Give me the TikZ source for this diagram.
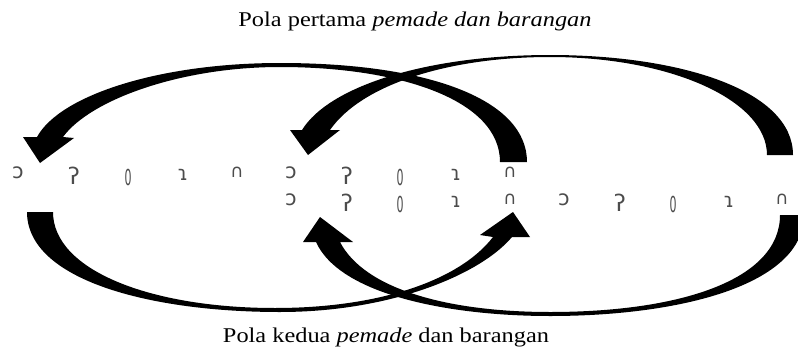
\documentclass[tikz,border=0pt]{standalone}
\usepackage{fontspec}
\usepackage{graphicx}
\setmainfont{Liberation Serif}
\newfontfamily\glf{DejaVu Sans}
\tikzset{
  band/.style={fill=black,draw=none},
  glyph/.style={inner sep=0pt,text=black!70},
  gO/.style={glyph,font=\glf\fontsize{21}{21}\selectfont},
  gQ/.style={glyph,font=\glf\fontsize{23}{23}\selectfont},
  gT/.style={glyph,font=\glf\fontsize{22}{22}\selectfont},
  gH/.style={glyph,font=\glf\fontsize{20}{20}\selectfont},
  gN/.style={glyph,font=\glf\fontsize{18}{18}\selectfont},
  lab/.style={inner sep=0pt,anchor=base,font=\fontsize{21}{25}\selectfont},
}
\newcommand{\tdrop}{\scalebox{0.5}[1]{0}}
\begin{document}
\begin{tikzpicture}[x=1pt,y=-1pt]
\useasboundingbox (0,0) rectangle (798,351);
\clip (0,0) rectangle (798,351);
% labels
\node[lab] (t1) at (415,26) {\scalebox{1.16}[1]{Pola pertama \textit{pemade dan barangan}}};
\node[lab] (t2) at (386,342) {\scalebox{1.16}[1]{Pola kedua \textit{pemade} dan barangan}};
% arrow A (top, outer)
\fill[band] (527,162) .. controls (527,100) and (430,63) .. (280,63)
  .. controls (160,63) and (60,95) .. (37,137) -- (23,137) -- (40,163) -- (74,138) -- (63,137)
  .. controls (90,100) and (180,67) .. (280,67) .. controls (400,67) and (500,100) .. (500,162) -- cycle;
% arrow B (top, inner)
\fill[band] (793,155) .. controls (793,90) and (680,55) .. (550,55)
  .. controls (430,55) and (330,85) .. (302,130) -- (290,130) -- (308,155) -- (340,130) -- (330,130)
  .. controls (362,84) and (450,57) .. (550,57) .. controls (670,57) and (767,100) .. (767,155) -- cycle;
% arrow C (bottom, outer)
\fill[band] (27,212) .. controls (27,280) and (150,312) .. (280,312)
  .. controls (390,312) and (480,275) .. (512,237) -- (530,237) -- (513,212) -- (480,235) -- (493,237)
  .. controls (460,280) and (380,308) .. (275,308) .. controls (150,308) and (53,270) .. (53,212) -- cycle;
% arrow D (bottom, inner)
\fill[band] (804,215) .. controls (804,285) and (680,316) .. (550,316)
  .. controls (450,316) and (340,295) .. (316,242) -- (303,242) -- (320,217) -- (353,242) -- (340,242)
  .. controls (365,290) and (450,312) .. (550,312) .. controls (680,312) and (780,280) .. (780,215) -- cycle;
% row 1
\node[gO] (a1) at (18,172.5) {ɔ};
\node[gQ] (a2) at (74,176) {ʔ};
\node[gT] (a3) at (128,177.5) {\tdrop};
\node[gH] (a4) at (183,175) {ɿ};
\node[gN] (a5) at (237,172.5) {∩};
\node[gO] (a6) at (291,172.5) {ɔ};
\node[gQ] (a7) at (347,176) {ʔ};
\node[gT] (a8) at (400,177.5) {\tdrop};
\node[gH] (a9) at (456,175) {ɿ};
\node[gN] (a10) at (510,172.5) {∩};
% row 2
\node[gO] (b1) at (291,199.5) {ɔ};
\node[gQ] (b2) at (347,203) {ʔ};
\node[gT] (b3) at (400,204.5) {\tdrop};
\node[gH] (b4) at (456,202) {ɿ};
\node[gN] (b5) at (510,199.5) {∩};
\node[gO] (b6) at (564,199.5) {ɔ};
\node[gQ] (b7) at (620,203) {ʔ};
\node[gT] (b8) at (673,204.5) {\tdrop};
\node[gH] (b9) at (729,202) {ɿ};
\node[gN] (b10) at (782,199.5) {∩};
\end{tikzpicture}
\end{document}
